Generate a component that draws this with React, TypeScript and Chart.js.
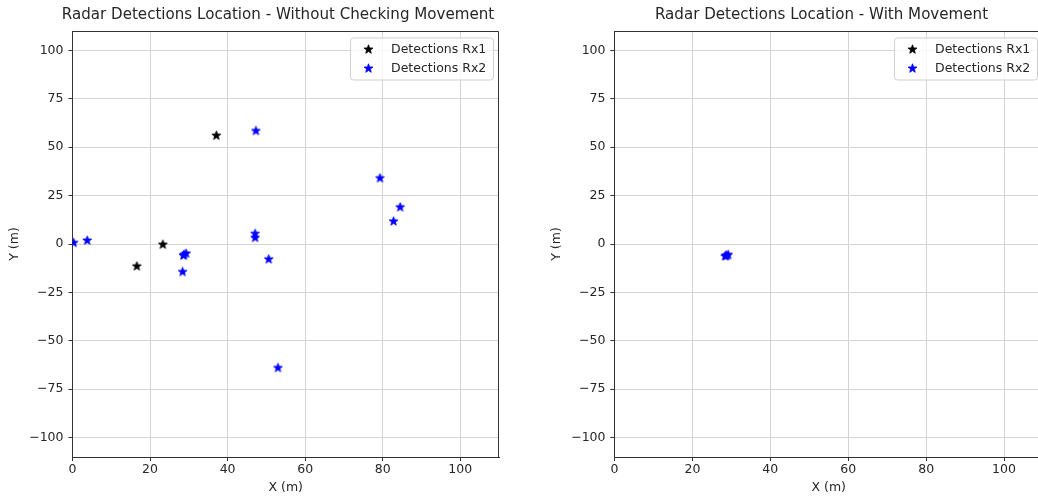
import React, { useEffect, useRef } from 'react';
import { Chart, registerables } from 'chart.js';

Chart.register(...registerables);

const FONT = "'DejaVu Sans', 'Liberation Sans', sans-serif";
const TEXT = '#262626';
const FRAME = '#333333';
const GRID = '#d4d4d4';

const leftTitle = 'Radar Detections Location - Without Checking Movement';
const rightTitle = 'Radar Detections Location - With Movement';
const seriesLabels = ['Detections Rx1', 'Detections Rx2'];
const seriesColors = ['#000000', '#0000ff'];
const xAxisTitle = 'X (m)';
const yAxisTitle = 'Y (m)';

const xTicks = [0, 20, 40, 60, 80, 100];
const yTicks = [-100, -75, -50, -25, 0, 25, 50, 75, 100];
const xRange = [0, 110];
const yRange = [-110, 110];

// Left plot: without checking movement
const leftRx1X = [37.1, 23.3, 16.6];
const leftRx1Y = [56.0, -0.3, -11.5];
const leftRx2X = [0.3, 3.8, 47.3, 47.1, 47.1, 50.6, 28.6, 29.3, 28.8, 28.4, 79.3, 84.5, 82.8, 53.0];
const leftRx2Y = [0.6, 1.8, 58.4, 5.3, 3.2, -7.9, -6.0, -4.9, -5.5, -14.4, 34.0, 19.0, 11.7, -64.0];

// Right plot: with movement
const rightRx1X: number[] = [];
const rightRx1Y: number[] = [];
const rightRx2X = [28.4, 28.8, 29.2, 28.6];
const rightRx2Y = [-6.3, -5.9, -5.6, -6.1];

function makeStar(color: string): HTMLCanvasElement {
  const c = document.createElement('canvas');
  c.width = 11;
  c.height = 11;
  const g = c.getContext('2d')!;
  g.beginPath();
  for (let i = 0; i < 10; i++) {
    const r = i % 2 === 0 ? 4.7 : 2.0;
    const a = -Math.PI / 2 + (i * Math.PI) / 5;
    const px = 5.5 + r * Math.cos(a);
    const py = 5.5 + r * Math.sin(a);
    if (i === 0) g.moveTo(px, py);
    else g.lineTo(px, py);
  }
  g.closePath();
  g.fillStyle = color;
  g.fill();
  g.strokeStyle = color;
  g.lineWidth = 0.8;
  g.lineJoin = 'round';
  g.stroke();
  return c;
}

const fmt = (v: number | string) => {
  const n = Number(v);
  return n < 0 ? '\u2212' + Math.abs(n) : String(n);
};

const zip = (xs: number[], ys: number[]) => xs.map((x, i) => ({ x, y: ys[i] }));

interface PlotSpec {
  title: string;
  titleX: number;
  rx1X: number[];
  rx1Y: number[];
  rx2X: number[];
  rx2Y: number[];
  yWidth: number;
  yTitlePad: number;
  padRight: number;
}

function buildConfig(p: PlotSpec): any {
  const stars = seriesColors.map(makeStar);
  const font = { family: FONT, size: 12.5 };

  const titlePlugin = {
    id: 'plotTitle',
    afterDraw(chart: any) {
      const ctx = chart.ctx;
      ctx.save();
      ctx.font = `15.1px ${FONT}`;
      ctx.fillStyle = TEXT;
      ctx.textAlign = 'center';
      ctx.textBaseline = 'middle';
      ctx.fillText(p.title, p.titleX, 15.5);
      ctx.restore();
    },
  };

  const framePlugin = {
    id: 'frame',
    beforeDatasetsDraw(chart: any) {
      const { ctx, chartArea } = chart;
      ctx.save();
      ctx.strokeStyle = FRAME;
      ctx.lineWidth = 1;
      const t = Math.round(chartArea.top) + 0.5;
      const r = Math.round(chartArea.right) - 0.5;
      ctx.beginPath();
      ctx.moveTo(chartArea.left, t);
      ctx.lineTo(r, t);
      ctx.lineTo(r, chartArea.bottom);
      ctx.stroke();
      ctx.restore();
    },
  };

  const legendPlugin = {
    id: 'innerLegend',
    afterDraw(chart: any) {
      const { ctx, chartArea } = chart;
      const w = 143;
      const h = 42;
      const x0 = chartArea.right - 6 - w;
      const y0 = chartArea.top + 6.5;
      ctx.save();
      ctx.beginPath();
      if (ctx.roundRect) ctx.roundRect(x0 + 0.5, y0 + 0.5, w, h, 3);
      else ctx.rect(x0 + 0.5, y0 + 0.5, w, h);
      ctx.fillStyle = 'rgba(255,255,255,0.8)';
      ctx.fill();
      ctx.strokeStyle = '#d0d0d0';
      ctx.lineWidth = 1;
      ctx.stroke();
      ctx.font = `12.5px ${FONT}`;
      ctx.fillStyle = TEXT;
      ctx.textAlign = 'left';
      ctx.textBaseline = 'middle';
      seriesLabels.forEach((lab, i) => {
        const cy = y0 + 11.5 + i * 19;
        const s = stars[i];
        ctx.drawImage(s, Math.round(x0 + 18.5 - s.width / 2), Math.round(cy - s.height / 2));
        ctx.fillText(lab, x0 + 41, cy + 0.5);
      });
      ctx.restore();
    },
  };

  return {
    type: 'scatter',
    data: {
      datasets: [
        {
          label: seriesLabels[0],
          data: zip(p.rx1X, p.rx1Y),
          pointStyle: stars[0],
          pointRadius: 5,
          backgroundColor: seriesColors[0],
          borderColor: seriesColors[0],
          showLine: false,
        },
        {
          label: seriesLabels[1],
          data: zip(p.rx2X, p.rx2Y),
          pointStyle: stars[1],
          pointRadius: 5,
          backgroundColor: seriesColors[1],
          borderColor: seriesColors[1],
          showLine: false,
        },
      ],
    },
    options: {
      responsive: false,
      animation: false,
      devicePixelRatio: 1,
      layout: { padding: { top: 31, right: p.padRight, bottom: 0, left: 0 } },
      plugins: {
        legend: { display: false },
        title: { display: false },
        tooltip: { enabled: false },
      },
      scales: {
        x: {
          type: 'linear',
          min: xRange[0],
          max: xRange[1],
          afterBuildTicks: (s: any) => {
            s.ticks = xTicks.map((v) => ({ value: v }));
          },
          afterFit: (s: any) => {
            s.height = 45;
          },
          ticks: { font, color: TEXT, padding: 1, maxRotation: 0, autoSkip: false, callback: fmt },
          grid: { color: GRID, tickColor: FRAME, tickLength: 4, lineWidth: 1 },
          border: { color: FRAME, width: 1 },
          title: { display: true, text: xAxisTitle, font, color: TEXT, padding: { top: 0, bottom: 7 } },
        },
        y: {
          type: 'linear',
          min: yRange[0],
          max: yRange[1],
          afterBuildTicks: (s: any) => {
            s.ticks = yTicks.map((v) => ({ value: v }));
          },
          afterFit: (s: any) => {
            s.width = p.yWidth;
          },
          ticks: { font, color: TEXT, padding: 5, autoSkip: false, callback: fmt },
          grid: { color: GRID, tickColor: FRAME, tickLength: 4, lineWidth: 1 },
          border: { color: FRAME, width: 1 },
          title: { display: true, text: yAxisTitle, font, color: TEXT, padding: { top: p.yTitlePad, bottom: 0 } },
        },
      },
    },
    plugins: [framePlugin, legendPlugin, titlePlugin],
  };
}

function RadarPlot({ spec, left, width }: { spec: PlotSpec; left: number; width: number }) {
  const ref = useRef<HTMLCanvasElement>(null);
  useEffect(() => {
    const chart = new Chart(ref.current!, buildConfig(spec));
    return () => chart.destroy();
  }, []);
  return (
    <canvas ref={ref} width={width} height={502} style={{ position: 'absolute', left, top: 0, width, height: 502 }} />
  );
}

export default function App() {
  const leftSpec: PlotSpec = {
    title: leftTitle, titleX: 278, rx1X: leftRx1X, rx1Y: leftRx1Y, rx2X: leftRx2X, rx2Y: leftRx2Y,
    yWidth: 72.5, yTitlePad: 7.5, padRight: 21,
  };
  const rightSpec: PlotSpec = {
    title: rightTitle, titleX: 301.5, rx1X: rightRx1X, rx1Y: rightRx1Y, rx2X: rightRx2X, rx2Y: rightRx2Y,
    yWidth: 94.5, yTitlePad: 29, padRight: 7,
  };
  return (
    <div style={{ position: 'absolute', left: 0, top: 0, width: 1038, height: 502, overflow: 'hidden', background: '#ffffff' }}>
      <RadarPlot spec={leftSpec} left={0} width={520} />
      <RadarPlot spec={rightSpec} left={520} width={530} />
    </div>
  );
}
